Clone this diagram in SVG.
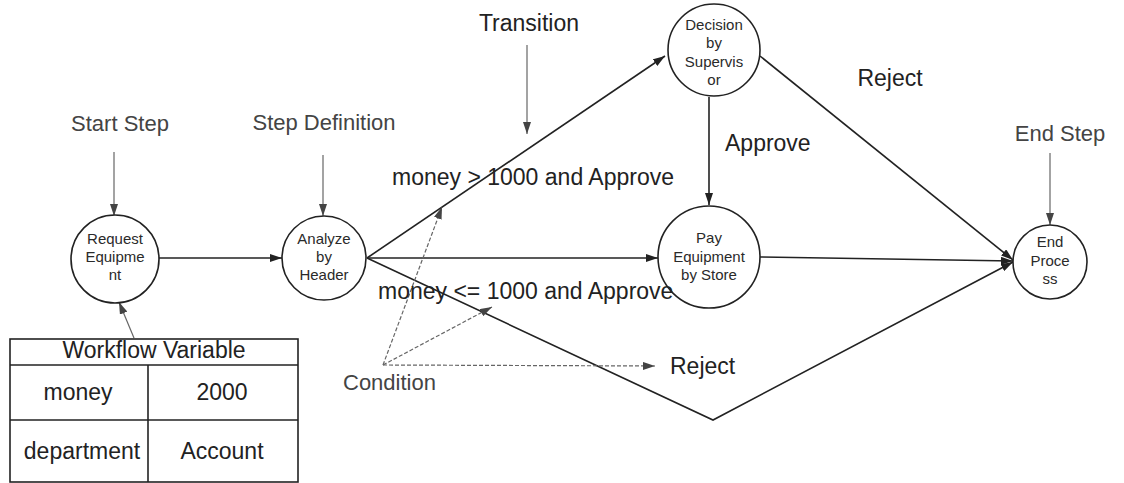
<svg xmlns="http://www.w3.org/2000/svg" width="1124" height="483" viewBox="0 0 1124 483">
  <style>
    .node circle { fill: #fff; stroke: #222; stroke-width: 1.6; }
    .node text { font-family: "Liberation Sans", Arial, sans-serif; font-size: 15px; fill: #2a2a2a; text-anchor: middle; }
    .lbl { font-family: "Liberation Sans", Arial, sans-serif; font-size: 23px; fill: #222; }
    .lbl.soft { fill: #444; font-size: 22px; }
    .flow { stroke: #222; stroke-width: 1.6; fill: none; }
    .note { stroke: #666; stroke-width: 1.2; fill: none; }
    .cond { stroke: #666; stroke-width: 1.2; fill: none; stroke-dasharray: 4 2; }
    .tbl { fill: none; stroke: #222; stroke-width: 1.6; }
  </style>
  <defs>
    <marker id="ah" viewBox="0 0 12 8" refX="12" refY="4" markerWidth="12" markerHeight="8" markerUnits="userSpaceOnUse" orient="auto">
      <path d="M0,0 L12,4 L0,8 Z" fill="#222"/>
    </marker>
    <marker id="ahg" viewBox="0 0 12 8" refX="12" refY="4" markerWidth="12" markerHeight="8" markerUnits="userSpaceOnUse" orient="auto">
      <path d="M0,0 L12,4 L0,8 Z" fill="#444"/>
    </marker>
  </defs>
  <rect width="1124" height="483" fill="#fff"/>

  <!-- connectors -->
  <g id="connectors">
    <line class="flow" x1="159" y1="258" x2="282" y2="258" marker-end="url(#ah)"/>
    <line class="flow" x1="367" y1="258" x2="665" y2="56" marker-end="url(#ah)"/>
    <line class="flow" x1="367" y1="258" x2="658" y2="258" marker-end="url(#ah)"/>
    <polyline class="flow" points="367,258 713,420 1013,262" marker-end="url(#ah)"/>
    <line class="flow" x1="709" y1="97" x2="709" y2="205" marker-end="url(#ah)"/>
    <line class="flow" x1="760" y1="56" x2="1013" y2="260" marker-end="url(#ah)"/>
    <line class="flow" x1="760" y1="257" x2="1013" y2="261" marker-end="url(#ah)"/>

    <!-- annotation pointers -->
    <line class="note" x1="114" y1="152" x2="114" y2="216" marker-end="url(#ahg)"/>
    <line class="note" x1="323" y1="155" x2="323" y2="216" marker-end="url(#ahg)"/>
    <line class="note" x1="527" y1="45" x2="527" y2="134" marker-end="url(#ahg)"/>
    <line class="note" x1="1050" y1="153" x2="1050" y2="225" marker-end="url(#ahg)"/>
    <line class="note" x1="134" y1="338" x2="119" y2="302" marker-end="url(#ahg)"/>

    <!-- condition pointers -->
    <line class="cond" x1="383" y1="365" x2="442" y2="207" marker-end="url(#ahg)"/>
    <line class="cond" x1="383" y1="365" x2="492" y2="307" marker-end="url(#ahg)"/>
    <line class="cond" x1="383" y1="365" x2="655" y2="366" marker-end="url(#ahg)"/>
  </g>

  <!-- steps -->
  <g id="request-equipment" class="node">
    <circle cx="115" cy="259" r="44"/>
    <text x="115" y="244">Request</text>
    <text x="115" y="262">Equipme</text>
    <text x="115" y="280">nt</text>
  </g>
  <g id="analyze-by-header" class="node">
    <circle cx="324" cy="258" r="42"/>
    <text x="324" y="244">Analyze</text>
    <text x="324" y="262">by</text>
    <text x="324" y="280">Header</text>
  </g>
  <g id="decision-by-supervisor" class="node">
    <circle cx="714" cy="50" r="46"/>
    <text x="714" y="30">Decision</text>
    <text x="714" y="48">by</text>
    <text x="714" y="67">Supervis</text>
    <text x="714" y="85">or</text>
  </g>
  <g id="pay-equipment" class="node">
    <circle cx="709" cy="257" r="51"/>
    <text x="709" y="243">Pay</text>
    <text x="709" y="262">Equipment</text>
    <text x="709" y="280">by Store</text>
  </g>
  <g id="end-process" class="node">
    <circle cx="1050" cy="262" r="37"/>
    <text x="1050" y="247">End</text>
    <text x="1050" y="266">Proce</text>
    <text x="1050" y="284">ss</text>
  </g>

  <!-- labels -->
  <g id="labels">
    <text class="lbl soft" x="120" y="131" text-anchor="middle">Start Step</text>
    <text class="lbl soft" x="324" y="130" text-anchor="middle">Step Definition</text>
    <text class="lbl" x="529" y="31" text-anchor="middle">Transition</text>
    <text class="lbl soft" x="1060" y="141" text-anchor="middle">End Step</text>
    <text class="lbl" x="890" y="86" text-anchor="middle">Reject</text>
    <text class="lbl" x="725" y="151">Approve</text>
    <text class="lbl" x="392" y="185">money &gt; 1000 and Approve</text>
    <text class="lbl" x="378" y="299">money &lt;= 1000 and Approve</text>
    <text class="lbl" x="670" y="374">Reject</text>
    <text class="lbl soft" x="343" y="390">Condition</text>
  </g>

  <!-- workflow variable table -->
  <g id="workflow-variable">
    <rect class="tbl" x="10" y="339" width="288" height="143"/>
    <line class="tbl" x1="10" y1="365" x2="298" y2="365"/>
    <line class="tbl" x1="10" y1="420" x2="298" y2="420"/>
    <line class="tbl" x1="148" y1="365" x2="148" y2="482"/>
    <text class="lbl" x="154" y="358" text-anchor="middle">Workflow Variable</text>
    <text class="lbl" x="78" y="400" text-anchor="middle">money</text>
    <text class="lbl" x="222" y="400" text-anchor="middle">2000</text>
    <text class="lbl" x="82" y="459" text-anchor="middle">department</text>
    <text class="lbl" x="222" y="459" text-anchor="middle">Account</text>
  </g>
</svg>
